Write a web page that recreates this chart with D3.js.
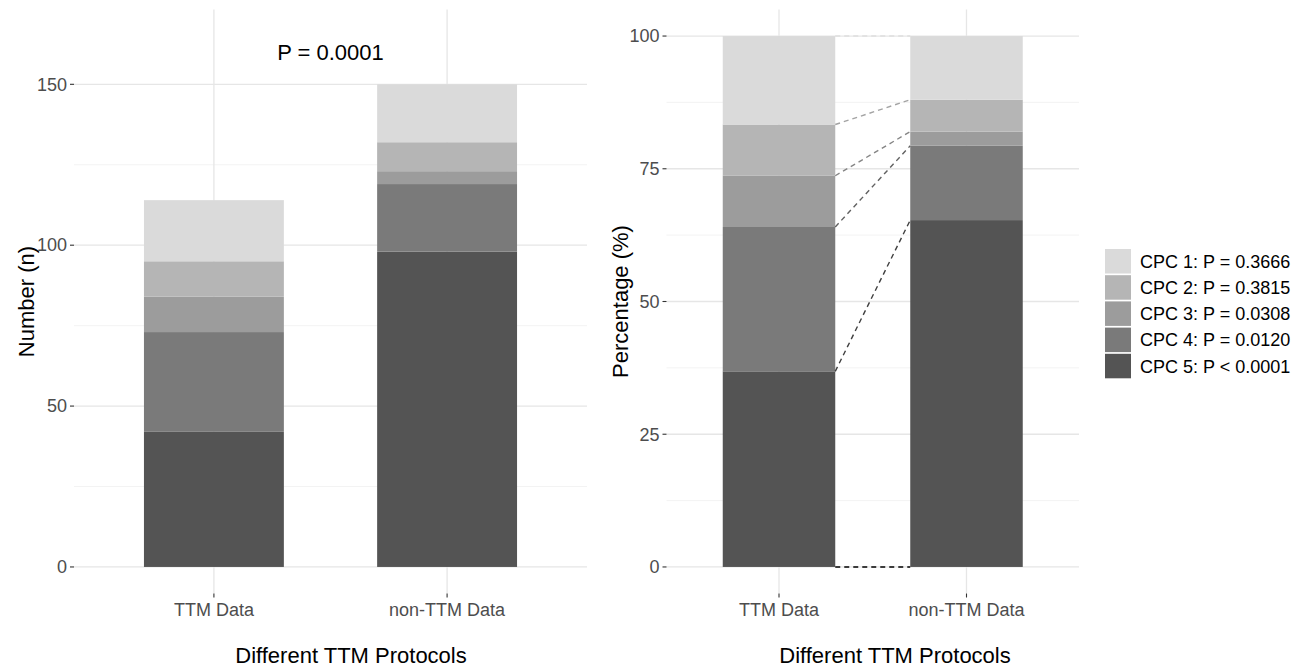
<!DOCTYPE html>
<html>
<head>
<meta charset="utf-8">
<script src="https://cdn.jsdelivr.net/npm/d3@7"></script>
<style>
  body { margin: 0; background: #fff; }
  svg text { font-family: "Liberation Sans", Arial, sans-serif; }
</style>
</head>
<body>
<svg id="chart" width="1307" height="668"></svg>
<script>
// data
const categories = ["TTM Data", "non-TTM Data"];
const cpcKeys = ["cpc1", "cpc2", "cpc3", "cpc4", "cpc5"];
const cpcLabels = ["CPC 1: P = 0.3666", "CPC 2: P = 0.3815", "CPC 3: P = 0.0308", "CPC 4: P = 0.0120", "CPC 5: P < 0.0001"];
const cpc1 = [19, 18];
const cpc2 = [11, 9];
const cpc3 = [11, 4];
const cpc4 = [31, 21];
const cpc5 = [42, 98];
const countTicks = [0, 50, 100, 150];
const countMinor = [25, 75, 125];
const pctTicks = [0, 25, 50, 75, 100];
const pctMinor = [12.5, 37.5, 62.5, 87.5];
const pLabel = "P = 0.0001";
const xTitle = "Different TTM Protocols";

const fills = { cpc1: "#dadada", cpc2: "#b5b5b5", cpc3: "#9c9c9c", cpc4: "#7a7a7a", cpc5: "#545454" };
// connector colours from bottom boundary upward
const linkColors = ["#000000", "#3f3f3f", "#616161", "#858585", "#a3a3a3", "#dedede"];

const counts = categories.map((c, i) => ({
  cat: c, cpc1: cpc1[i], cpc2: cpc2[i], cpc3: cpc3[i], cpc4: cpc4[i], cpc5: cpc5[i]
}));
const percents = counts.map(d => {
  const tot = d3.sum(cpcKeys, k => d[k]);
  const o = { cat: d.cat };
  cpcKeys.forEach(k => { o[k] = d[k] / tot * 100; });
  return o;
});

const svg = d3.select("#chart");
const stackOrder = cpcKeys.slice().reverse(); // CPC 5 at the bottom
const stack = d3.stack().keys(stackOrder);

function panel(opt) {
  const { data, x0, x1, domain, ticks, minor, title, titleX } = opt;
  const top = 9.5, bottom = 593.5;
  const x = d3.scaleBand().domain(categories).range([x0, x1]).paddingInner(0.4).paddingOuter(0.3);
  const y = d3.scaleLinear().domain(domain).range([bottom, top]);
  const g = svg.append("g");

  // grid
  g.selectAll(".minor").data(minor).join("line")
    .attr("x1", x0).attr("x2", x1)
    .attr("y1", d => y(d)).attr("y2", d => y(d))
    .attr("stroke", "#f0f0f0").attr("stroke-width", 0.8);
  g.selectAll(".major").data(ticks).join("line")
    .attr("x1", x0).attr("x2", x1)
    .attr("y1", d => y(d)).attr("y2", d => y(d))
    .attr("stroke", "#e6e6e6").attr("stroke-width", 1.3);
  g.selectAll(".vmajor").data(categories).join("line")
    .attr("x1", d => x(d) + x.bandwidth() / 2).attr("x2", d => x(d) + x.bandwidth() / 2)
    .attr("y1", top).attr("y2", bottom)
    .attr("stroke", "#e6e6e6").attr("stroke-width", 1.3);

  // bars
  const series = stack(data);
  g.selectAll(".layer").data(series).join("g")
    .attr("fill", d => fills[d.key])
    .selectAll("rect").data(d => d).join("rect")
    .attr("x", d => x(d.data.cat))
    .attr("width", x.bandwidth())
    .attr("y", d => y(d[1]))
    .attr("height", d => y(d[0]) - y(d[1]));

  // y ticks
  const ya = g.append("g");
  ya.selectAll("line").data(ticks).join("line")
    .attr("x1", x0 - 4).attr("x2", x0)
    .attr("y1", d => y(d)).attr("y2", d => y(d))
    .attr("stroke", "#333").attr("stroke-width", 1.1);
  ya.selectAll("text").data(ticks).join("text")
    .attr("x", x0 - 7).attr("y", d => y(d))
    .attr("dy", "0.35em").attr("text-anchor", "end")
    .attr("font-size", 18).attr("fill", "#4d4d4d")
    .text(d => d);

  // x ticks
  const xa = g.append("g");
  xa.selectAll("line").data(categories).join("line")
    .attr("x1", d => x(d) + x.bandwidth() / 2).attr("x2", d => x(d) + x.bandwidth() / 2)
    .attr("y1", bottom).attr("y2", bottom + 4)
    .attr("stroke", "#333").attr("stroke-width", 1.1);
  xa.selectAll("text").data(categories).join("text")
    .attr("x", d => x(d) + x.bandwidth() / 2).attr("y", 616)
    .attr("text-anchor", "middle")
    .attr("font-size", 18).attr("fill", "#4d4d4d")
    .text(d => d);

  // titles
  g.append("text")
    .attr("x", titleX).attr("y", 663)
    .attr("text-anchor", "middle").attr("font-size", 22).attr("fill", "#000")
    .text(xTitle);
  g.append("text")
    .attr("transform", `translate(${opt.yTitleX},${(top + bottom) / 2}) rotate(-90)`)
    .attr("text-anchor", "middle").attr("dy", "0.35em")
    .attr("font-size", 22).attr("fill", "#000")
    .text(title);

  return { g, x, y, series };
}

// left: counts
const left = panel({
  data: counts, x0: 74, x1: 587, domain: [-8.25, 173.25],
  ticks: countTicks, minor: countMinor, title: "Number (n)", titleX: 351, yTitleX: 26
});
left.g.append("text")
  .attr("x", 330.5).attr("y", left.y(160))
  .attr("dy", "0.35em").attr("text-anchor", "middle")
  .attr("font-size", 22).attr("fill", "#000")
  .text(pLabel);

// right: percentages
const right = panel({
  data: percents, x0: 666.5, x1: 1079, domain: [-5, 105],
  ticks: pctTicks, minor: pctMinor, title: "Percentage (%)", titleX: 895, yTitleX: 620
});

// dashed connectors between stack boundaries
const bounds = [0].concat(right.series.map(s => s));
const links = bounds.map((s, i) => {
  const a = i === 0 ? 0 : s[0][1];
  const b = i === 0 ? 0 : s[1][1];
  return { a, b, color: linkColors[i] };
});
right.g.selectAll(".link").data(links).join("line")
  .attr("x1", right.x(categories[0]) + right.x.bandwidth())
  .attr("x2", right.x(categories[1]))
  .attr("y1", d => right.y(d.a))
  .attr("y2", d => right.y(d.b))
  .attr("stroke", d => d.color)
  .attr("stroke-width", 1.4)
  .attr("stroke-dasharray", "5,4");

// legend
const legend = svg.append("g").attr("transform", "translate(1105,249)");
const items = legend.selectAll("g").data(cpcKeys).join("g")
  .attr("transform", (d, i) => `translate(0,${i * 26.2})`);
items.append("rect")
  .attr("width", 26).attr("height", 24.5)
  .attr("fill", d => fills[d]);
items.append("text")
  .attr("x", 35).attr("y", 12.5).attr("dy", "0.35em")
  .attr("font-size", 18).attr("fill", "#000")
  .text((d, i) => cpcLabels[i]);
</script>
</body>
</html>
